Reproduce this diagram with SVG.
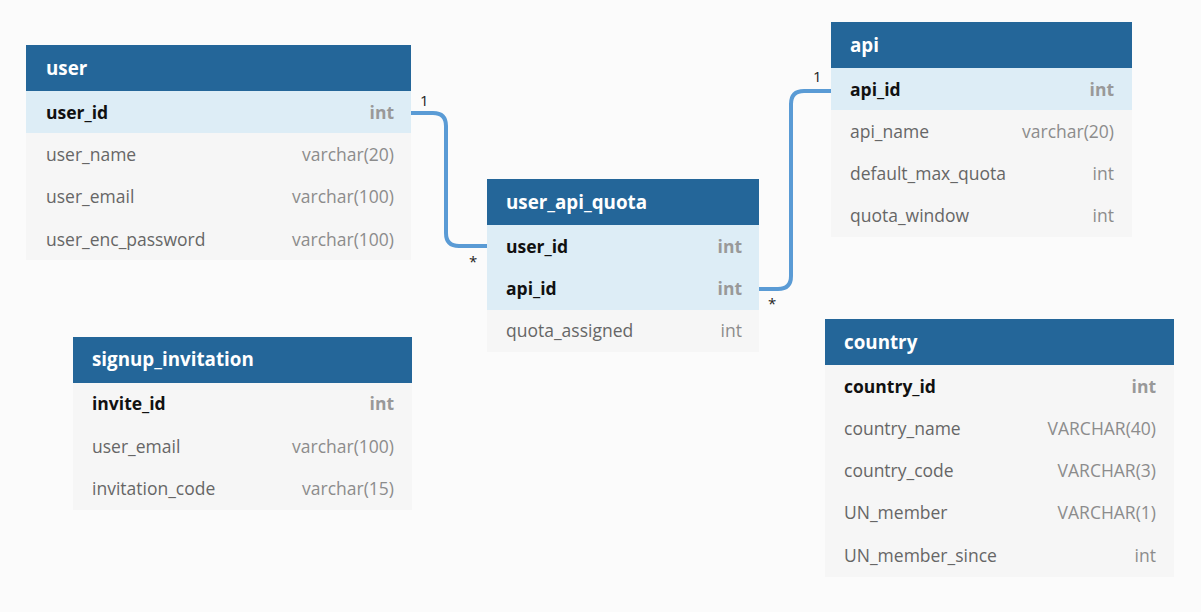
<svg xmlns="http://www.w3.org/2000/svg" width="1201" height="612" viewBox="0 0 1201 612">
<style>
.bg{fill:#fbfbfb}
.hd{fill:#246699}
.body{fill:#f6f6f6}
.pk{fill:#ddedf6}
.ht{font-family:"Open Sans","Liberation Sans",sans-serif;font-size:18.8px;font-weight:bold;fill:#ffffff}
.kn{font-family:"Open Sans","Liberation Sans",sans-serif;font-size:17.5px;font-weight:bold;fill:#111111}
.kt{font-family:"Open Sans","Liberation Sans",sans-serif;font-size:17.5px;font-weight:bold;fill:#999999;text-anchor:end}
.fn{font-family:"Open Sans","Liberation Sans",sans-serif;font-size:17.5px;fill:#666666}
.ft{font-family:"Open Sans","Liberation Sans",sans-serif;font-size:17.5px;fill:#8c8c8c;text-anchor:end}
.conn{fill:none;stroke:#5a9bd5;stroke-width:4}
.lbl{font-family:"Open Sans","Liberation Sans",sans-serif;font-size:15px;fill:#222222}
</style>
<rect class="bg" x="0" y="0" width="1201" height="612"/>
<g id="connectors">
<path class="conn" d="M411,113 H433 Q446,113 446,126 V233 Q446,246 459,246 H487"/>
<path class="conn" d="M759,289 H778 Q791,289 791,276 V104 Q791,91 804,91 H831"/>
<text class="lbl" x="420" y="106">1</text>
<text class="lbl" x="469" y="267">*</text>
<text class="lbl" x="768" y="309">*</text>
<text class="lbl" x="813" y="82">1</text>
</g>
<g id="user">
<rect class="body" x="26" y="45" width="385" height="215"/>
<rect class="hd" x="26" y="45" width="385" height="46"/>
<rect class="pk" x="26" y="91" width="385" height="42"/>
<text class="ht" x="46" y="75">user</text>
<text class="kn" x="46" y="119">user_id</text><text class="kt" x="394" y="119">int</text>
<text class="fn" x="46" y="161">user_name</text><text class="ft" x="394" y="161">varchar(20)</text>
<text class="fn" x="46" y="203">user_email</text><text class="ft" x="394" y="203">varchar(100)</text>
<text class="fn" x="46" y="246">user_enc_password</text><text class="ft" x="394" y="246">varchar(100)</text>
</g>
<g id="user_api_quota">
<rect class="body" x="487" y="179" width="272" height="173"/>
<rect class="hd" x="487" y="179" width="272" height="46"/>
<rect class="pk" x="487" y="225" width="272" height="85"/>
<text class="ht" x="506" y="209">user_api_quota</text>
<text class="kn" x="506" y="253">user_id</text><text class="kt" x="742" y="253">int</text>
<text class="kn" x="506" y="295">api_id</text><text class="kt" x="742" y="295">int</text>
<text class="fn" x="506" y="337">quota_assigned</text><text class="ft" x="742" y="337">int</text>
</g>
<g id="api">
<rect class="body" x="831" y="22" width="301" height="215"/>
<rect class="hd" x="831" y="22" width="301" height="46"/>
<rect class="pk" x="831" y="68" width="301" height="42"/>
<text class="ht" x="850" y="52">api</text>
<text class="kn" x="850" y="96">api_id</text><text class="kt" x="1114" y="96">int</text>
<text class="fn" x="850" y="138">api_name</text><text class="ft" x="1114" y="138">varchar(20)</text>
<text class="fn" x="850" y="180">default_max_quota</text><text class="ft" x="1114" y="180">int</text>
<text class="fn" x="850" y="222">quota_window</text><text class="ft" x="1114" y="222">int</text>
</g>
<g id="signup_invitation">
<rect class="body" x="73" y="337" width="339" height="173"/>
<rect class="hd" x="73" y="337" width="339" height="46"/>
<text class="ht" x="92" y="366">signup_invitation</text>
<text class="kn" x="92" y="410">invite_id</text><text class="kt" x="394" y="410">int</text>
<text class="fn" x="92" y="453">user_email</text><text class="ft" x="394" y="453">varchar(100)</text>
<text class="fn" x="92" y="495">invitation_code</text><text class="ft" x="394" y="495">varchar(15)</text>
</g>
<g id="country">
<rect class="body" x="825" y="319" width="349" height="258"/>
<rect class="hd" x="825" y="319" width="349" height="46"/>
<text class="ht" x="844" y="349">country</text>
<text class="kn" x="844" y="393">country_id</text><text class="kt" x="1156" y="393">int</text>
<text class="fn" x="844" y="435">country_name</text><text class="ft" x="1156" y="435">VARCHAR(40)</text>
<text class="fn" x="844" y="477">country_code</text><text class="ft" x="1156" y="477">VARCHAR(3)</text>
<text class="fn" x="844" y="519">UN_member</text><text class="ft" x="1156" y="519">VARCHAR(1)</text>
<text class="fn" x="844" y="562">UN_member_since</text><text class="ft" x="1156" y="562">int</text>
</g>
</svg>
